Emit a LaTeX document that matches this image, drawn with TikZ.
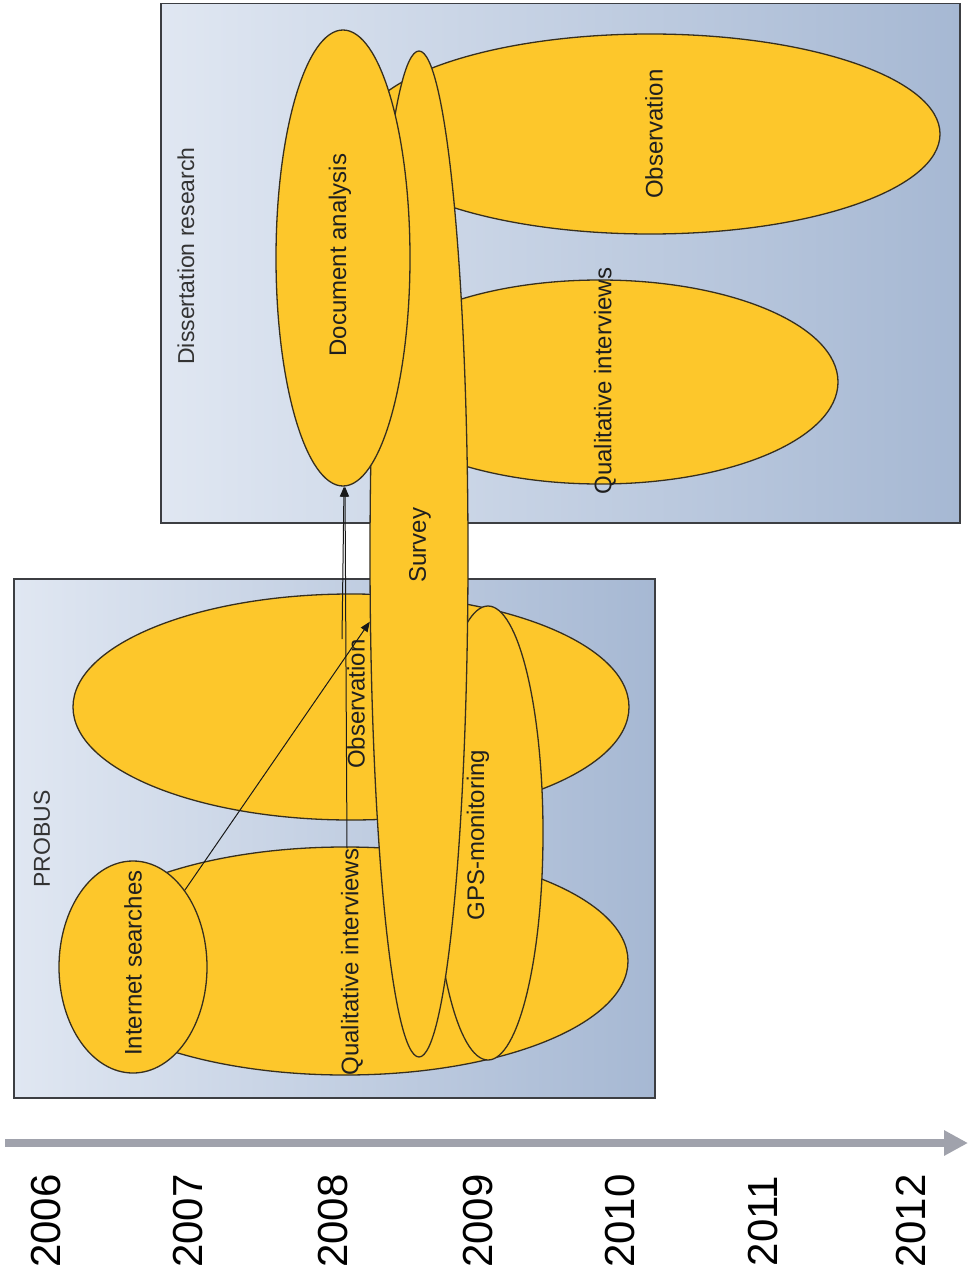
\documentclass[tikz,border=0pt]{standalone}
\usepackage{fontspec}
\setmainfont{Liberation Sans}
\usetikzlibrary{shapes.geometric,arrows.meta}
\definecolor{blobfill}{RGB}{253,199,43}
\definecolor{blobline}{RGB}{55,47,30}
\definecolor{boxleft}{RGB}{224,231,242}
\definecolor{boxright}{RGB}{166,184,211}
\definecolor{boxline}{RGB}{60,62,66}
\definecolor{axisgrey}{RGB}{160,162,172}
\begin{document}
\begin{tikzpicture}[x=1pt,y=-1pt,
  blob/.style={ellipse, fill=blobfill, draw=blobline, line width=1.3pt, inner sep=0pt},
  lbl/.style={rotate=90, font=\fontsize{24}{24}\selectfont, inner sep=0pt, text=black!88},
  paneltitle/.style={rotate=90, font=\fontsize{23}{23}\selectfont, inner sep=0pt, text=black!80},
  yearlbl/.style={rotate=90, font=\fontsize{42}{42}\selectfont, inner sep=0pt},
  panel/.style={draw=boxline, line width=1.5pt, left color=boxleft, right color=boxright, inner sep=0pt, anchor=north west},
  arr/.style={-{Triangle[length=10pt,width=8pt]}, line width=1pt, draw=black!90},
  axisarrow/.style={draw=axisgrey, line width=8pt, -{Triangle[length=24pt,width=24pt]}}]
\useasboundingbox (0,0) rectangle (969,1284);
\fill[white] (0,0) rectangle (969,1284);

% panels
\node[panel, minimum width=641pt, minimum height=519pt] (probus) at (13,578) {};
\node[panel, minimum width=799pt, minimum height=519pt] (diss) at (160,3) {};
\node[paneltitle] (probuslbl) at (42,839) {PROBUS};
\node[paneltitle] (disslbl) at (186,256) {Dissertation research};

% PROBUS ellipses
\node[blob, minimum width=566pt, minimum height=228pt] (qi1) at (345,961) {};
\node[blob, minimum width=148pt, minimum height=212pt] (inet) at (133,967) {};
\node[blob, minimum width=556pt, minimum height=226pt] (obs1) at (351,707) {};
\node[blob, minimum width=110pt, minimum height=454pt] (gps) at (488,833) {};

% Dissertation ellipses
\node[blob, minimum width=580pt, minimum height=200pt] (obs2) at (650,134) {};
\node[blob, minimum width=476pt, minimum height=204pt] (qi2) at (600,382) {};
\node[blob, minimum width=98pt, minimum height=1006pt] (survey) at (419,554) {};
\node[blob, minimum width=134pt, minimum height=456pt] (doc) at (343,258) {};

% labels
\node[lbl] (inetlbl) at (133,963) {Internet searches};
\node[lbl] (qi1lbl) at (352,962) {Qualitative interviews};
\node[lbl] (obs1lbl) at (356,704) {Observation};
\node[lbl] (surveylbl) at (420,545) {Survey};
\node[lbl] (gpslbl) at (478,835) {GPS-monitoring};
\node[lbl] (doclbl) at (340,255) {Document analysis};
\node[lbl] (obs2lbl) at (654,134) {Observation};
\node[lbl] (qi2lbl) at (605,381) {Qualitative interviews};

% connectors
\draw[arr] (inet.56.6) -- (survey.234);
\draw[arr] ([xshift=-5pt]qi1lbl.east) -- ([xshift=2pt]doc.south);
\draw[arr] ([xshift=-14pt]obs1lbl.east) -- ([xshift=1pt]doc.south);

% time axis
\coordinate (axstart) at (5,1143);
\coordinate (axend) at (968,1143);
\draw[axisarrow] (axstart) -- (axend);

\node[yearlbl] (y2006) at (46,1221) {2006};
\node[yearlbl] (y2007) at (188,1221) {2007};
\node[yearlbl] (y2008) at (333,1221) {2008};
\node[yearlbl] (y2009) at (478,1221) {2009};
\node[yearlbl] (y2010) at (620,1221) {2010};
\node[yearlbl] (y2011) at (763,1221) {2011};
\node[yearlbl] (y2012) at (911,1221) {2012};
\end{tikzpicture}
\end{document}
